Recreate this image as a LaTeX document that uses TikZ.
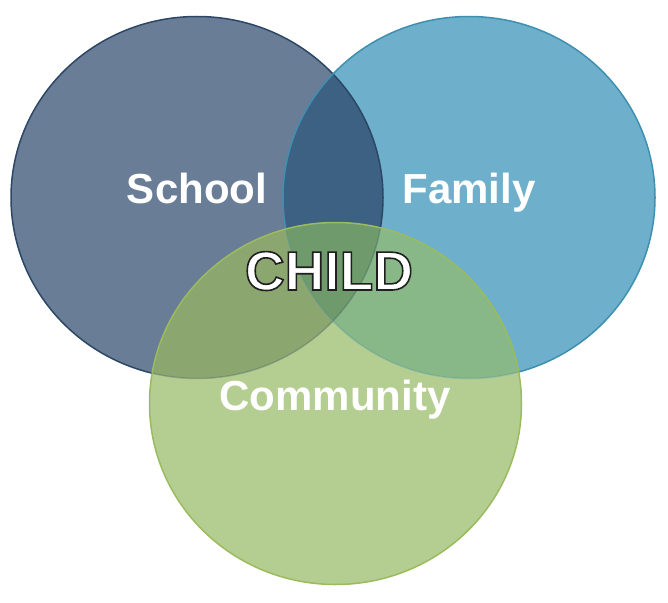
\documentclass[tikz,border=0pt]{standalone}
\usepackage{fontspec}
\setmainfont{Liberation Sans}
\usetikzlibrary{positioning}
\definecolor{schoolC}{HTML}{6A7D96}
\definecolor{familyC}{HTML}{6EB0CB}
\definecolor{commC}{HTML}{B4CD90}
\definecolor{sfC}{HTML}{3D6182}
\definecolor{csC}{HTML}{8CA670}
\definecolor{cfC}{HTML}{88B888}
\definecolor{csfC}{HTML}{6E9A6C}
\definecolor{schoolD}{HTML}{2C4766}
\definecolor{familyD}{HTML}{3E8FB0}
\definecolor{commD}{HTML}{9ABB5E}
\tikzset{
  ring/.style     = {line width=1.5pt},
  ringname/.style = {font=\fontsize{42}{42}\selectfont\bfseries, text=white, inner sep=0pt, anchor=base},
  childname/.style= {font=\fontsize{55}{55}\selectfont\bfseries, text=white, inner sep=0pt, anchor=base}
}
% path of one circle of the diagram, around a named centre
\newcommand{\RingPath}[1]{(#1) ellipse [x radius=186pt, y radius=181pt]}
% white letters with a dark rim
\newcommand{\RimText}[1]{\special{pdf:code q 2 Tr 1.6 w 0.12 G}#1\special{pdf:code Q}}

\begin{document}
\begin{tikzpicture}[x=1pt,y=-1pt]
    \useasboundingbox (0,0) rectangle (668,602);
    \coordinate (school) at (197,197.5);
    \coordinate (family) at (469,197.5);
    \coordinate (comm)   at (335.5,403.5);

    % the two upper circles and their overlap
    \fill[schoolC] \RingPath{school};
    \fill[familyC] \RingPath{family};
    \begin{scope}
      \clip \RingPath{school};
      \fill[sfC] \RingPath{family};
    \end{scope}
    \draw[ring,schoolD] \RingPath{school};
    \draw[ring,familyD] \RingPath{family};

    % the lower circle and its overlaps
    \fill[commC] \RingPath{comm};
    \begin{scope}
      \clip \RingPath{comm};
      \fill[csC] \RingPath{school};
      \fill[cfC] \RingPath{family};
      \clip \RingPath{school};
      \fill[csfC] \RingPath{family};
    \end{scope}
    \begin{scope}
      \clip \RingPath{comm};
      \draw[ring,schoolD,opacity=0.25] \RingPath{school};
      \draw[ring,familyD,opacity=0.25] \RingPath{family};
    \end{scope}
    \draw[ring,commD] \RingPath{comm};

    % texts
    \node[ringname] (schoolname) at (197,203) {School};
    \node[ringname] (familyname) at (469,203) {Family};
    \node[ringname] (commname)   at (335,410) {Community};
    \node[childname] (child)     at (329,290) {\RimText{CHILD}};
\end{tikzpicture}
\end{document}
